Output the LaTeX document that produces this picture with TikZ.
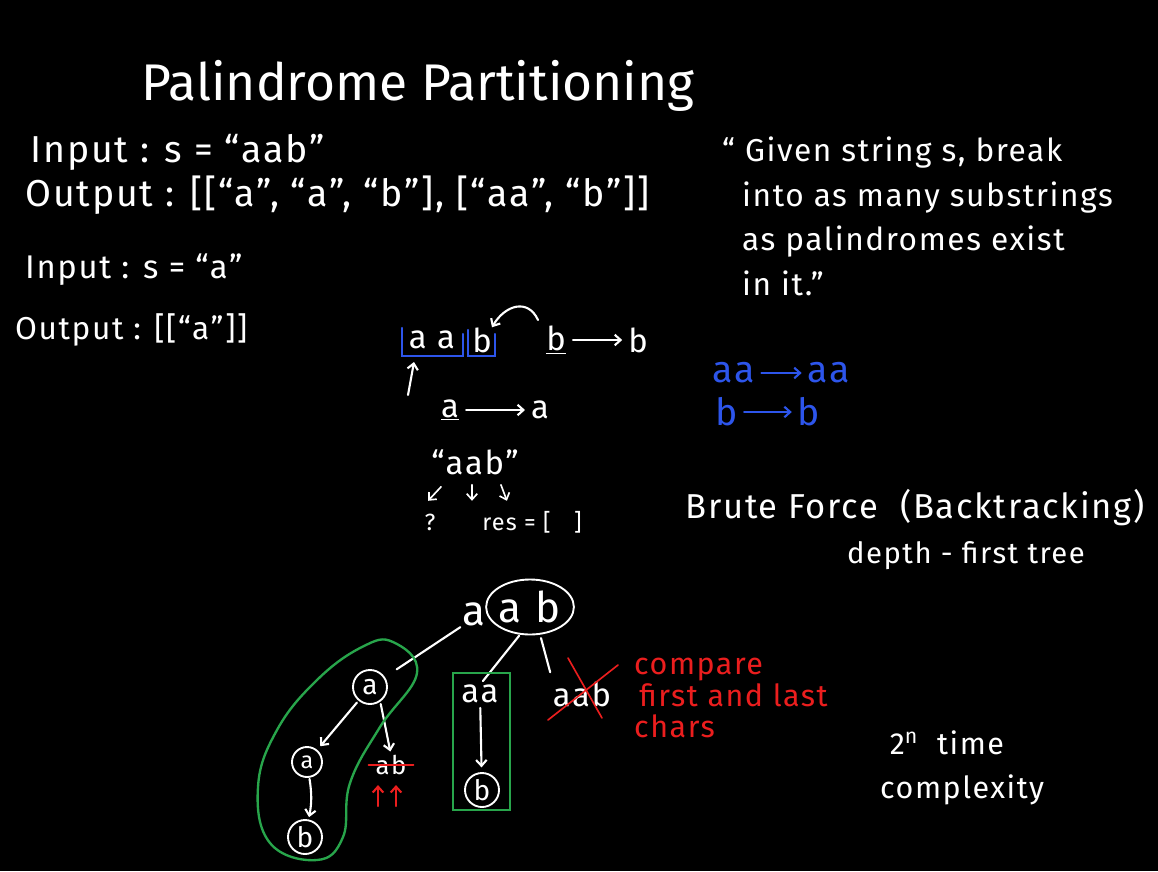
\documentclass[tikz,border=0pt]{standalone}
\usepackage{fontspec}
\setmainfont{Fira Sans}
\newfontfamily\handfont[LetterSpace=5]{Fira Sans}
\usetikzlibrary{arrows.meta, positioning, calc, shapes.geometric}
\definecolor{inkblue}{RGB}{45, 85, 235}
\definecolor{inkred}{RGB}{235, 30, 30}
\definecolor{inkgreen}{RGB}{40, 165, 75}

\begin{document}
\begin{tikzpicture}[x=0.03cm, y=-0.03cm,
        hand/.style={text=white, inner sep=0pt, font=\handfont\fontsize{32}{36}\selectfont},
        scratch/.style={hand, font=\handfont\fontsize{28}{32}\selectfont},
        small/.style={hand, font=\handfont\fontsize{20}{24}\selectfont},
        circ/.style={circle, draw=white, line width=1.6pt, inner sep=0pt, minimum size=1.02cm,
                     text=white, font=\fontsize{24}{28}\selectfont},
        pen/.style={white, line width=1.8pt, line cap=round},
        arrow/.style={pen, -{Straight Barb[length=5pt, width=9pt]}},
        bluepen/.style={pen, draw=inkblue},
        redpen/.style={pen, draw=inkred},
        greenpen/.style={pen, draw=inkgreen, line width=2pt},
    ]
        \fill[black] (0,0) rectangle (1158,871);
        \useasboundingbox (0,0) rectangle (1158,871);

        \node[hand, font=\fontsize{44}{48}\selectfont] (title) at (418,86) {Palindrome Partitioning};

        \node[hand, anchor=west] (in1)  at (30,152)  {Input : s = “aab”};
        \node[hand, anchor=west] (out1) at (25,195)  {Output : [[“a”, “a”, “b”], [“aa”, “b”]]};
        \node[hand, anchor=west, font=\handfont\fontsize{28}{32}\selectfont] (in2)  at (25,270)  {Input : s = “a”};
        \node[hand, anchor=west, font=\handfont\fontsize{27}{32}\selectfont] (out2) at (15,330)  {Output : [[“a”]]};

        \node[hand, anchor=north west, align=left, font=\handfont\fontsize{27}{38}\selectfont] (quote) at (722,137)
            {“ Given string s, break\\ \ \ into as many substrings\\ \ \ as palindromes exist\\ \ \ in it.”};

        % scratch work
        \node[scratch] (sa) at (432,340) {a a};
        \node[scratch] (sb) at (482,340) {b};
        \draw[bluepen] (402,328) |- (463,356) -- (463,334);
        \draw[bluepen] (468,330) |- (495,356) -- (495,334);
        \node[scratch] (bu) at (556,340) {\underline{b}};
        \node[scratch] (bv) at (638,340) {b};
        \draw[arrow, shorten <=6pt, shorten >=5pt] (bu) -- (bv);
        \coordinate (curl) at (538,320);
        \draw[arrow] (curl) .. controls (528,298) and (505,305) .. (sb.north east);
        \coordinate (upfoot) at (408,395);
        \draw[arrow] (upfoot) -- (414,362);
        \node[scratch] (au) at (450,410) {\underline{a}};
        \node[scratch] (av) at (540,410) {a};
        \draw[arrow, shorten <=6pt, shorten >=5pt] (au) -- (av);
        \node[scratch] (qaab) at (475,462) {“aab”};
        \node[small] (qm)  at (430,522) {?};
        \node[small] (res) at (532,522) {res = [\quad]};
        \draw[arrow, line width=1.4pt] ($(qaab.south west)+(10,12)$) -- ($(qaab.south west)+(-3,26)$);
        \draw[arrow, line width=1.4pt] ($(qaab.south)+(-3,10)$) -- ($(qaab.south)+(-3,26)$);
        \draw[arrow, line width=1.4pt] ($(qaab.south east)+(-18,10)$) -- ($(qaab.south east)+(-12,26)$);

        \node[hand, text=inkblue] (baa1) at (734,373) {aa};
        \node[hand, text=inkblue] (baa2) at (829,373) {aa};
        \draw[bluepen, -{Straight Barb[length=5pt, width=9pt]}, shorten <=5pt, shorten >=5pt] (baa1) -- (baa2);
        \node[hand, text=inkblue] (bb1) at (727,412) {b};
        \node[hand, text=inkblue] (bb2) at (809,412) {b};
        \draw[bluepen, -{Straight Barb[length=5pt, width=9pt]}, shorten <=5pt, shorten >=5pt] (bb1) -- (bb2);

        \node[hand, font=\handfont\fontsize{29.5}{34}\selectfont] (brute) at (915,508) {Brute Force \ (Backtracking)};
        \node[hand, font=\handfont\fontsize{25}{30}\selectfont] (dft) at (966,556) {depth - first tree};

        % decision tree
        \node[hand, font=\fontsize{36}{40}\selectfont] (ra) at (474,614) {a};
        \node[draw=white, line width=1.6pt, ellipse, inner sep=0pt, minimum width=2.6cm, minimum height=1.65cm,
              text=white, font=\fontsize{36}{40}\selectfont] (rab) at (530,607) {a\,\,b};
        \node[circ] (l1)  at (370,687) {a};
        \node[scratch] (maa) at (480,694) {aa};
        \node[scratch] (raab) at (582,694) {aab};
        \draw[pen, shorten <=2pt, shorten >=12pt] (ra.south west) -- (l1);
        \draw[pen, shorten <=1pt, shorten >=4pt] (rab.250) -- (maa.north);
        \draw[pen, shorten <=3pt, shorten >=8pt] (rab.290) -- (raab.north west);
        \draw[redpen, line width=1.4pt] ($(raab)+(-34,26)$) -- ($(raab)+(36,-29)$);
        \draw[redpen, line width=1.4pt] ($(raab)+(-14,-36)$) -- ($(raab)+(20,24)$);
        \node[hand, text=inkred, anchor=north west, align=left, font=\handfont\fontsize{26}{27}\selectfont] (note) at (634,658)
            {compare\\ \,first and last\\ chars};

        \node[circ, minimum size=0.9cm, font=\fontsize{20}{24}\selectfont] (l2) at (307,762) {a};
        \node[circ] (l3) at (305,837) {b};
        \draw[arrow, shorten <=2pt, shorten >=4pt] (l1) -- (l2);
        \draw[arrow, shorten <=1pt, shorten >=2pt] (l2) to[bend left=10] (l3);
        \node[small, font=\handfont\fontsize{22}{26}\selectfont] (lab) at (391,765) {ab};
        \draw[arrow, shorten <=2pt, shorten >=3pt] (l1.-55) -- (lab.north);
        \draw[redpen, line width=1.4pt] ($(lab.west)+(-7,0)$) -- ($(lab.east)+(7,0)$);
        \coordinate (up1) at (378,806);
        \coordinate (up2) at (396,806);
        \draw[redpen, -{Straight Barb[length=5pt, width=9pt]}] (up1) -- ($(lab.south)+(-13,10)$);
        \draw[redpen, -{Straight Barb[length=5pt, width=9pt]}] (up2) -- ($(lab.south)+(5,10)$);
        \draw[greenpen] plot[smooth cycle, tension=0.7] coordinates
            {(362,647) (393,642) (417,673) (380,727) (350,783) (343,837) (317,860)
             (270,843) (258,787) (277,730) (317,680)};

        \node[circ] (mb) at (482,790) {b};
        \draw[arrow, shorten <=4pt, shorten >=4pt] (maa) -- (mb);
        \draw[greenpen] (453,673) rectangle (510,810);

        \node[hand, anchor=north west, align=left, font=\handfont\fontsize{26}{32}\selectfont] (cx) at (880,730)
            {\ 2\textsuperscript{n} \ time\\[6pt]complexity};
    \end{tikzpicture}
\end{document}
